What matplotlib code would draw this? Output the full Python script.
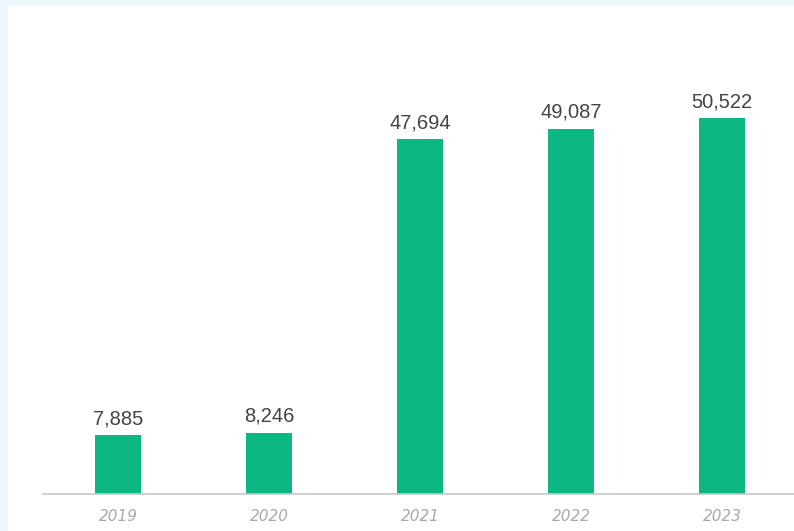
import matplotlib.pyplot as plt
from matplotlib.patches import Rectangle

# data
years = ["2019", "2020", "2021", "2022", "2023"]
values = [7885, 8246, 47694, 49087, 50522]
value_labels = ["7,885", "8,246", "47,694", "49,087", "50,522"]

fig = plt.figure(figsize=(7.94, 5.31), dpi=100)
fig.patch.set_facecolor("#eaf7fc")
# white panel inside the light blue frame
fig.patches.append(Rectangle((8 / 794, 0), 1, 525 / 531, transform=fig.transFigure,
                             facecolor="white", edgecolor="none", zorder=-10))

ax = fig.add_axes([43 / 794, 37 / 531, 751 / 794, 488 / 531])
ax.set_facecolor("none")
ax.set_zorder(5)

x = list(range(len(years)))
ax.bar(x, values, width=0.3, color="#0cb784", zorder=2)

for xi, v, lab in zip(x, values, value_labels):
    ax.annotate(lab, (xi, v), xytext=(0, 5), textcoords="offset points",
                ha="center", va="bottom", fontsize=14.5, color="#444444",
                family="Liberation Sans")

ax.set_xlim(-0.497, 4.477)
ax.set_ylim(0, 65600)

ax.set_xticks(x)
ax.set_xticklabels(years, fontsize=11, color="#a8a8a8", style="italic")
ax.tick_params(axis="x", length=0, pad=11)
ax.set_yticks([])

for side in ["top", "right", "left"]:
    ax.spines[side].set_visible(False)
ax.spines["bottom"].set_color("#c8c8c8")
ax.spines["bottom"].set_linewidth(1.2)

fig.savefig("out.png", dpi=100, facecolor=fig.get_facecolor())
